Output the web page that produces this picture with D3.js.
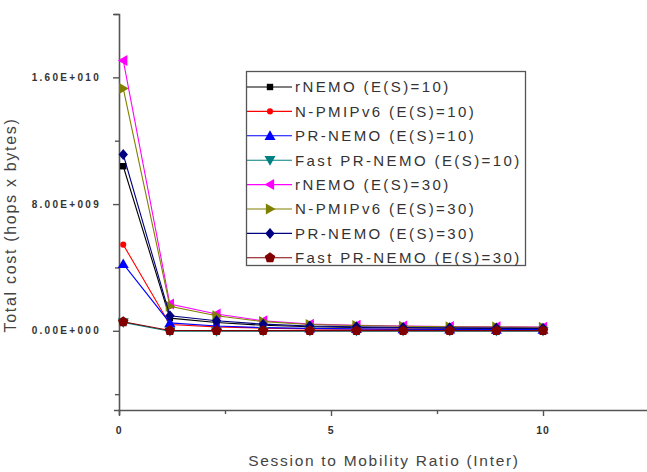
<!DOCTYPE html>
<html><head><meta charset="utf-8">
<script src="https://cdn.jsdelivr.net/npm/d3@7/dist/d3.min.js"></script>
<style>body{margin:0;background:#fff}svg{display:block}</style>
</head><body>
<script>
const xValues = [0.1, 1.2, 2.3, 3.4, 4.5, 5.6, 6.7, 7.8, 8.9, 10];
const seriesNames = ["rNEMO (E(S)=10)", "N-PMIPv6 (E(S)=10)", "PR-NEMO (E(S)=10)", "Fast PR-NEMO (E(S)=10)",
  "rNEMO (E(S)=30)", "N-PMIPv6 (E(S)=30)", "PR-NEMO (E(S)=30)", "Fast PR-NEMO (E(S)=30)"];
const rNEMO10   = [10.39e9, 0.80e9, 0.52e9, 0.35e9, 0.26e9, 0.21e9, 0.18e9, 0.16e9, 0.15e9, 0.14e9];
const NPMIP10   = [5.44e9, 0.40e9, 0.25e9, 0.17e9, 0.12e9, 0.10e9, 0.09e9, 0.08e9, 0.07e9, 0.07e9];
const PRNEMO10  = [4.22e9, 0.50e9, 0.30e9, 0.20e9, 0.15e9, 0.12e9, 0.10e9, 0.09e9, 0.08e9, 0.08e9];
const Fast10    = [0.53e9, -0.03e9, -0.03e9, -0.02e9, -0.02e9, -0.02e9, -0.02e9, -0.02e9, -0.02e9, -0.02e9];
const rNEMO30   = [17.07e9, 1.69e9, 1.06e9, 0.63e9, 0.42e9, 0.35e9, 0.30e9, 0.27e9, 0.25e9, 0.23e9];
const NPMIP30   = [15.3e9, 1.55e9, 0.95e9, 0.58e9, 0.40e9, 0.33e9, 0.29e9, 0.26e9, 0.24e9, 0.22e9];
const PRNEMO30  = [11.13e9, 0.95e9, 0.63e9, 0.42e9, 0.30e9, 0.25e9, 0.21e9, 0.19e9, 0.17e9, 0.16e9];
const Fast30    = [0.57e9, 0.02e9, 0.01e9, 0.01e9, 0.01e9, 0.01e9, 0.01e9, 0.01e9, 0.01e9, 0.01e9];
const seriesValues = [rNEMO10, NPMIP10, PRNEMO10, Fast10, rNEMO30, NPMIP30, PRNEMO30, Fast30];
const colors = ["#000000", "#ff0000", "#0000ff", "#008080", "#ff00ff", "#808000", "#000080", "#800000"];
const markers = ["square", "circle", "up", "down", "left", "right", "diamond", "pentagon"];
const yMajorTicks = [0, 8e9, 16e9];
const yTickLabels = ["0.00E+000", "8.00E+009", "1.60E+010"];
const xMajorTicks = [0, 5, 10];
const xTickLabels = ["0", "5", "10"];
const yTitle = "Total cost (hops x bytes)";
const xTitle = "Session to Mobility Ratio (Inter)";

const W = 647, H = 472;
const svg = d3.select("body").append("svg").attr("width", W).attr("height", H);
const x = d3.scaleLinear().domain([0, 12.5]).range([119, 649]);
const y = d3.scaleLinear().domain([-5e9, 2e10]).range([410, 14]);
const axisColor = "#555";
const font = "'Liberation Sans', Arial, sans-serif";

// axes
const gx = svg.append("g").attr("transform", `translate(0,${y(-5e9)})`)
  .call(d3.axisBottom(x).tickValues([0, 2.5, 5, 7.5, 10, 12.5]).tickSize(5).tickFormat(""));
const gy = svg.append("g").attr("transform", `translate(${x(0)},0)`)
  .call(d3.axisLeft(y).tickValues([-4e9, 0, 4e9, 8e9, 12e9, 16e9, 20e9]).tickSize(5).tickFormat(""));
[gx, gy].forEach(g => {
  g.select(".domain").attr("stroke", axisColor).attr("stroke-width", 1.6);
  g.selectAll(".tick line").attr("stroke", axisColor).attr("stroke-width", 1.4);
});
gy.selectAll(".tick line").attr("x2", d => yMajorTicks.includes(d) || d === 20e9 ? -6 : -4);
gx.selectAll(".tick line").attr("y2", d => xMajorTicks.includes(d) ? 6 : 4);

// tick labels
svg.append("g").selectAll("text").data(yMajorTicks).join("text")
  .attr("x", 101).attr("y", d => y(d)).attr("dy", "0.35em")
  .attr("text-anchor", "end").attr("font-family", font).attr("font-size", 10)
  .attr("font-weight", "bold").attr("fill", "#333").attr("letter-spacing", 2.3)
  .text((d, i) => yTickLabels[i]);
svg.append("g").selectAll("text").data(xMajorTicks).join("text")
  .attr("x", d => x(d)).attr("y", 434)
  .attr("text-anchor", "middle").attr("font-family", font).attr("font-size", 10.5)
  .attr("font-weight", "bold").attr("fill", "#333").attr("letter-spacing", 0.8)
  .text((d, i) => xTickLabels[i]);

// titles
svg.append("text").attr("transform", `translate(16,225) rotate(-90)`)
  .attr("text-anchor", "middle").attr("font-family", font).attr("font-size", 16)
  .attr("fill", "#444").attr("letter-spacing", 1.7).text(yTitle);
svg.append("text").attr("x", 384).attr("y", 466)
  .attr("text-anchor", "middle").attr("font-family", font).attr("font-size", 15.5)
  .attr("fill", "#444").attr("letter-spacing", 1.7).text(xTitle);

// marker shapes
function markerPath(type, s) {
  const h = s / 2;
  switch (type) {
    case "square": return `M${-h*0.8},${-h*0.8}H${h*0.8}V${h*0.8}H${-h*0.8}Z`;
    case "circle": return d3.symbol(d3.symbolCircle, s * s * 0.45)();
    case "up": return `M0,${-h}L${h},${h*0.75}L${-h},${h*0.75}Z`;
    case "down": return `M0,${h}L${h},${-h*0.75}L${-h},${-h*0.75}Z`;
    case "left": return `M${-h},0L${h*0.75},${-h}L${h*0.75},${h}Z`;
    case "right": return `M${h},0L${-h*0.75},${-h}L${-h*0.75},${h}Z`;
    case "diamond": return `M0,${-h}L${h*0.85},0L0,${h}L${-h*0.85},0Z`;
    case "pentagon": {
      const pts = d3.range(5).map(i => { const a = -Math.PI/2 + i*2*Math.PI/5; return [Math.cos(a)*h, Math.sin(a)*h]; });
      return "M" + pts.map(p => p.join(",")).join("L") + "Z";
    }
  }
}
const markerSize = [8, 8, 11, 11, 11, 11, 11, 11];

const line = d3.line().x((d, i) => x(xValues[i])).y(d => y(d));
seriesValues.forEach((vals, k) => {
  const g = svg.append("g");
  g.append("path").datum(vals).attr("d", line).attr("fill", "none")
    .attr("stroke", colors[k]).attr("stroke-width", 1.1);
  g.selectAll("path.m").data(vals).join("path").attr("class", "m")
    .attr("transform", (d, i) => `translate(${x(xValues[i])},${y(d)})`)
    .attr("d", markerPath(markers[k], markerSize[k])).attr("fill", colors[k]);
});

// legend
const lg = svg.append("g");
lg.append("rect").attr("x", 246.5).attr("y", 71.5).attr("width", 279).attr("height", 194)
  .attr("fill", "#fff").attr("stroke", "#555").attr("stroke-width", 1.3);
seriesNames.forEach((name, k) => {
  const cy = 87 + k * 24.4;
  lg.append("line").attr("x1", 247).attr("x2", 292).attr("y1", cy).attr("y2", cy)
    .attr("stroke", colors[k]).attr("stroke-width", 1.1);
  lg.append("path").attr("transform", `translate(270,${cy})`)
    .attr("d", markerPath(markers[k], markerSize[k])).attr("fill", colors[k]);
  lg.append("text").attr("x", 295).attr("y", cy).attr("dy", "0.36em")
    .attr("font-family", font).attr("font-size", 15).attr("fill", "#333")
    .attr("letter-spacing", 2.4).text(name);
});
</script>
</body></html>
